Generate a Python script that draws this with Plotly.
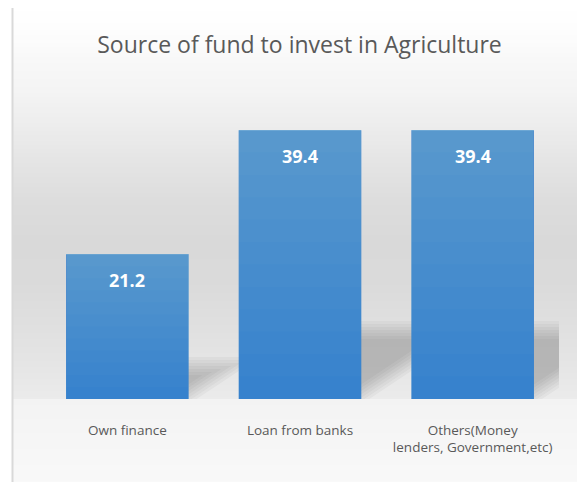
import plotly.graph_objects as go

categories = ["Own finance", "Loan from banks", "Others(Money<br>lenders, Government,etc)"]
values = [21.2, 39.4, 39.4]
labels = ["21.2", "39.4", "39.4"]

# page offset (browser body margin)
OFF = 8
W, H = 585, 482
# plot area in reference pixel coordinates
PL, PR, PT, PB = 41, 559, 92, 399
PW, PH = PR - PL, PB - PT
ML, MT = PL - OFF, PT - OFF
MR, MB = W - ML - PW, H - MT - PH
YMAX = 45

def px(x):
    return (x - PL) / PW

def py(y):
    return (PB - y) / PH

stops = [(6, 255), (40, 252), (60, 248), (90, 244), (120, 238), (160, 229), (200, 221),
         (240, 217), (280, 218), (330, 224), (370, 230), (399, 235)]
floor_stops = [(399, 243), (440, 246), (490, 249)]

def interp(st, y):
    for (y0, g0), (y1, g1) in zip(st, st[1:]):
        if y0 <= y <= y1:
            return round(g0 + (g1 - g0) * (y - y0) / (y1 - y0))
    return st[-1][1] if y > st[-1][0] else st[0][1]

shapes = []
y = 7
while y < 495:
    g = interp(stops, y + 1) if y + 1 < 399 else interp(floor_stops, y + 1)
    y1 = min(y + 2.2, 399) if y < 399 else y + 2.2
    shapes.append(dict(type="rect", xref="paper", yref="paper",
                       x0=px(13), x1=px(600), y0=py(y), y1=py(y1),
                       fillcolor=f"rgb({g},{g},{g})", line=dict(width=0), layer="below"))
    y += 2
# border
shapes.append(dict(type="line", xref="paper", yref="paper", x0=px(12.5), x1=px(12.5), y0=py(6), y1=py(495),
                   line=dict(color="#d9d9d9", width=2), layer="below"))
shapes.append(dict(type="line", xref="paper", yref="paper", x0=px(12), x1=px(600), y0=py(6.5), y1=py(6.5),
                   line=dict(color="#d9d9d9", width=1.5), layer="below"))

# soft perspective shadows behind bars
cw = PW / 3.0
yu = PH / YMAX
hw = 0.355
for i, v in enumerate(values):
    xl, xr = i - hw, i + hw
    h_px = 0.29 * v * yu
    s_px = 1.5 * h_px
    for k in range(7):
        t = 3 * k
        htop = (h_px - t) / yu
        xd = xr + (8 - 5 * k) / cw
        sk = s_px * ((h_px - t) / h_px) / cw
        path = (f"M {xl},0 L {xd},0 L {xd + sk},{htop} L {xl + sk},{htop} Z")
        shapes.append(dict(type="path", xref="x", yref="y", path=path,
                           fillcolor="rgba(40,40,40,0.035)", line=dict(width=0), layer="below"))

fig = go.Figure()
fig.add_trace(go.Bar(x=categories, y=values, marker=dict(color="#3380cc", line=dict(width=0)),
                     width=2 * hw, hoverinfo="skip"))
N = 12
for k in range(1, N + 1):
    f = k / N
    fig.add_trace(go.Bar(x=categories, y=[v * f for v in values], base=[v * (1 - f) for v in values],
                         marker=dict(color="rgba(255,255,255,0.019)", line=dict(width=0)),
                         width=2 * hw, hoverinfo="skip"))

annotations = []
for c, v, t in zip(categories, values, labels):
    annotations.append(dict(x=c, y=v, text=f"<b>{t}</b>", showarrow=False, yshift=-26,
                            yanchor="middle", font=dict(family="Open Sans", size=18, color="white")))

fig.update_layout(
    width=W, height=H, margin=dict(l=ML, r=MR, t=MT, b=MB, pad=0),
    paper_bgcolor="white", plot_bgcolor="rgba(0,0,0,0)",
    barmode="overlay", showlegend=False, shapes=shapes, annotations=annotations,
    title=dict(text="Source of fund to invest in Agriculture", x=(299.5 - OFF) / W, xanchor="center",
               y=1 - (45 - OFF) / H, yanchor="middle", yref="container", xref="container",
               font=dict(family="Open Sans", size=23, color="#595959")),
    xaxis=dict(range=[-0.5, 2.5], autorange=False, showgrid=False, showline=False, zeroline=False,
               ticks="", automargin=False,
               tickfont=dict(family="Open Sans", size=13.5, color="#595959"), ticklabelstandoff=21),
    yaxis=dict(range=[0, YMAX], autorange=False, visible=False, showgrid=False, zeroline=False,
               automargin=False),
)

fig.write_html("out.html")
